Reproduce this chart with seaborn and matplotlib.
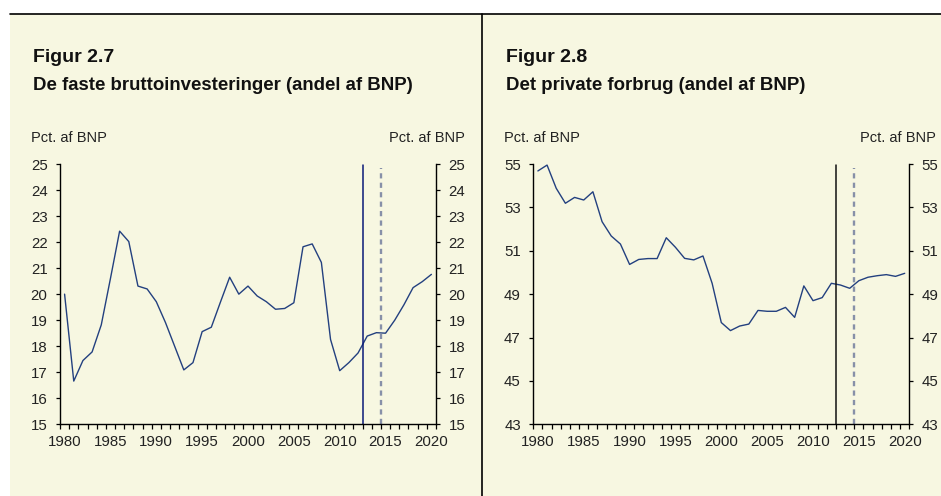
import numpy as np
import pandas as pd
import matplotlib
matplotlib.use("Agg")
import matplotlib.pyplot as plt
import seaborn as sns

# data
years = list(range(1980, 2021))

invest = [20.0, 16.66, 17.45, 17.78, 18.82, 20.6, 22.42, 22.02, 20.31, 20.2,
          19.71, 18.91, 18.0, 17.09, 17.37, 18.56, 18.73, 19.7, 20.65, 20.0,
          20.31, 19.93, 19.71, 19.42, 19.45, 19.67, 21.82, 21.93, 21.22, 18.26,
          17.06, 17.37, 17.74, 18.39, 18.52, 18.5, 19.0, 19.59, 20.25, 20.48,
          20.76]

consump = [54.68, 54.95, 53.88, 53.19, 53.46, 53.34, 53.72, 52.34, 51.68, 51.31,
           50.37, 50.6, 50.64, 50.64, 51.6, 51.16, 50.65, 50.58, 50.76, 49.5,
           47.69, 47.32, 47.53, 47.62, 48.25, 48.21, 48.21, 48.39, 47.93, 49.38,
           48.7, 48.84, 49.5, 49.42, 49.27, 49.62, 49.78, 49.85, 49.9, 49.82,
           49.96]

fig_labels = ["Figur 2.7", "Figur 2.8"]
titles = ["De faste bruttoinvesteringer (andel af BNP)",
          "Det private forbrug (andel af BNP)"]
unit = "Pct. af BNP"
left_yticks = [list(range(15, 26)), list(range(43, 56, 2))]
xtick_years = list(range(1980, 2021, 5))
solid_x = 2012.5
dashed_x = 2014.5

df = pd.DataFrame({"year": years, "invest": invest, "consump": consump})

sns.set_theme(style="ticks")
plt.rcParams["font.family"] = ["Liberation Sans", "DejaVu Sans"]

BG = "#F7F7E1"
LINE = "#23407F"
TICK_FS = 10.8

fig = plt.figure(figsize=(9.41, 4.96), dpi=100)
fig.patch.set_facecolor("white")

# cream panel background, top rule and divider
fig.patches.append(plt.Rectangle((10 / 941, 0), 1 - 10 / 941, 1 - 13.5 / 496,
                                 transform=fig.transFigure, facecolor=BG,
                                 edgecolor="none", zorder=-5))
fig.add_artist(plt.Line2D([10 / 941, 1], [1 - 13.5 / 496] * 2,
                          transform=fig.transFigure, color="black", lw=1.2))
fig.add_artist(plt.Line2D([482.3 / 941] * 2, [0, 1 - 13.5 / 496],
                          transform=fig.transFigure, color="black", lw=1.2))

panels = [
    dict(col="invest", left=60 / 941, txt_x=33 / 941, unit_r=465 / 941,
         ylim=(15, 25), solid="#0A1A78"),
    dict(col="consump", left=533.3 / 941, txt_x=506 / 941, unit_r=936 / 941,
         ylim=(43, 55), solid="#111111"),
]

bottom = 1 - 424.3 / 496
height = (424.3 - 164) / 496
width = 376 / 941

for i, p in enumerate(panels):
    ax = fig.add_axes([p["left"], bottom, width, height])
    ax.set_facecolor("none")
    sns.lineplot(data=df, x="year", y=p["col"], ax=ax, color=LINE, lw=1.0)
    ax.axvline(solid_x, ymax=0.995, color=p["solid"], lw=1.1)
    ax.axvline(dashed_x, ymax=0.985, color="#8790A8", lw=1.7,
               ls=(0, (2.2, 1.8)))

    ax.set_xlim(1979.5, 2020.5)
    ax.set_ylim(*p["ylim"])
    ax.set_xlabel("")
    ax.set_ylabel("")

    ax.set_xticks(xtick_years)
    ax.set_xticks(np.arange(1979.5, 2021, 1), minor=True)
    ax.tick_params(axis="x", which="major", length=0, pad=8,
                   labelsize=TICK_FS, colors="#222222")
    ax.tick_params(axis="x", which="minor", length=3.5, width=0.9,
                   direction="out", color="black")
    ax.set_yticks(left_yticks[i])
    ax.tick_params(axis="y", which="major", length=3, width=0.9,
                   direction="out", pad=6, labelsize=TICK_FS, color="black",
                   labelcolor="#222222")

    ax2 = ax.twinx()
    ax2.set_ylim(*p["ylim"])
    ax2.set_yticks(left_yticks[i])
    ax2.tick_params(axis="y", length=3, width=0.9, direction="out", pad=6,
                    labelsize=TICK_FS, color="black", labelcolor="#222222")

    for a in (ax, ax2):
        a.spines["top"].set_visible(False)
        for s in ("left", "right", "bottom"):
            a.spines[s].set_color("black")
            a.spines[s].set_linewidth(1.0)
    ax.spines["right"].set_visible(False)
    ax2.spines["left"].set_visible(False)
    ax2.spines["bottom"].set_visible(False)

    fig.text(p["txt_x"], 1 - 57 / 496, fig_labels[i], fontsize=14,
             fontweight="bold", va="center", ha="left", color="#111111")
    fig.text(p["txt_x"], 1 - 86 / 496, titles[i], fontsize=13.4,
             fontweight="bold", va="center", ha="left", color="#111111")
    fig.text(p["txt_x"] - 2 / 941, 1 - 138 / 496, unit, fontsize=10.5,
             va="center", ha="left", color="#222222")
    fig.text(p["unit_r"], 1 - 138 / 496, unit, fontsize=10.5,
             va="center", ha="right", color="#222222")

fig.savefig("out.png", dpi=100, facecolor=fig.get_facecolor())
